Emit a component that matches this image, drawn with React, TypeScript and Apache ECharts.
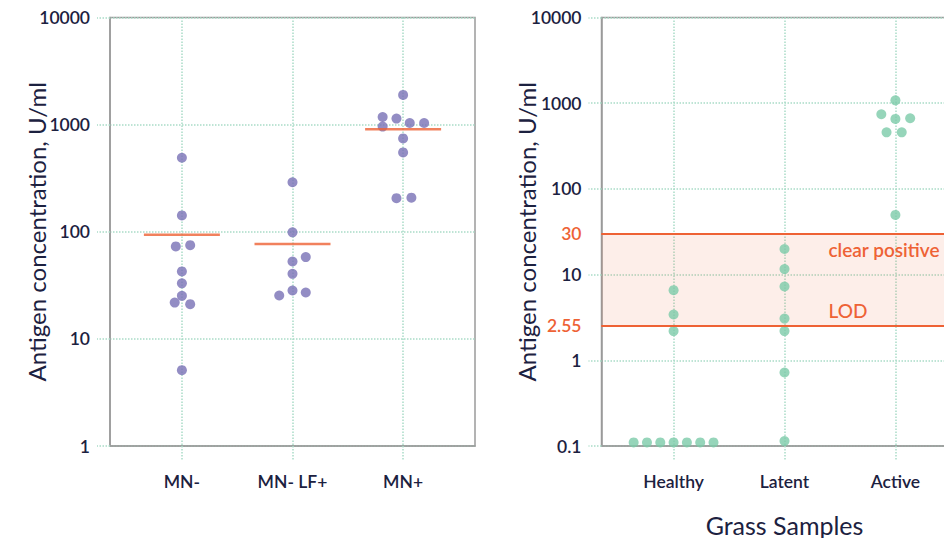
import React, { useEffect, useRef } from "react";
import * as echarts from "echarts";

// ---------- data ----------
const leftCategories = ["MN-", "MN- LF+", "MN+"];
const mnNeg = [491, 142, 73, 75, 42.6, 33, 25.2, 21.8, 21.1, 5.1];
const mnNegJitter = [0, 0, -0.055, 0.075, 0, 0, 0, -0.065, 0.075, 0];
const mnNegLf = [290, 98.7, 58, 52.8, 40.5, 28.3, 27.1, 25.4];
const mnNegLfJitter = [0, 0, 0.12, 0, 0, 0, 0.12, -0.12];
const mnPos = [1893, 1178, 1138, 1035, 1035, 958, 744, 550, 206, 208];
const mnPosJitter = [0, -0.185, -0.06, 0.06, 0.19, -0.185, 0, 0, -0.06, 0.075];
const leftMeans = [94, 77, 904];

const rightCategories = ["Healthy", "Latent", "Active"];
const healthy = [0.11, 0.11, 0.11, 0.11, 0.11, 0.11, 0.11, 2.19, 3.42, 6.58];
const healthyJitter = [-0.36, -0.24, -0.12, 0, 0.12, 0.24, 0.36, 0, 0, 0];
const latent = [19.9, 11.6, 7.26, 3.07, 2.19, 0.72, 0.114];
const latentJitter = [0, 0, 0, 0, 0, 0, 0];
const active = [1079, 743, 656, 668, 457, 457, 49.7];
const activeJitter = [0, -0.127, 0, 0.133, -0.08, 0.057, 0];

const clearPositive = 30;
const lod = 2.55;
const leftYRange = [1, 10000];
const rightYRange = [0.1, 10000];
const categoryPositions = [1, 2, 3];

// ---------- styles ----------
const FONT = "Lato, 'Noto Sans', sans-serif";
const DARK = "#1c2140";
const MINT = "#a9dcc7";
const GREY = "#9a9a9a";
const ORANGE = "#ee6235";
const PURPLE = "#7870b5";
const GREEN = "#7ccaa9";

function toPoints(values: number[], jitter: number[], group: number) {
  return values.map((v, i) => [group + jitter[i], v]);
}

function xAxisFor(gridIndex: number, cats: string[], name?: string) {
  return {
    type: "value",
    gridIndex,
    min: 0.35,
    max: 3.65,
    name: name || "",
    nameLocation: "middle",
    nameGap: 66,
    nameMoveOverlap: false,
    nameTextStyle: { color: DARK, fontSize: 25, fontFamily: FONT },
    axisLine: { show: true, onZero: false, lineStyle: { color: GREY, width: 1.5 } },
    axisTick: {
      show: true,
      customValues: categoryPositions,
      length: 15,
      lineStyle: { color: MINT, type: "dotted", width: 1.5 },
    },
    axisLabel: {
      customValues: categoryPositions,
      formatter: (v: number) => cats[Math.round(v) - 1] ?? "",
      color: DARK,
      fontSize: 17.5,
      fontWeight: 600,
      fontFamily: FONT,
      margin: 26,
    },
    splitLine: { show: true, lineStyle: { color: MINT, type: "dotted", width: 1.5 } },
  };
}

function yAxisFor(gridIndex: number, range: number[], gap: number) {
  return {
    type: "log",
    logBase: 10,
    gridIndex,
    min: range[0],
    max: range[1],
    name: "Antigen concentration, U/ml",
    nameLocation: "middle",
    nameGap: gap,
    nameMoveOverlap: false,
    nameTextStyle: { color: DARK, fontSize: 24, fontFamily: FONT },
    axisLine: { show: true, lineStyle: { color: GREY, width: 1.5 } },
    axisTick: { show: true, length: 13, lineStyle: { color: MINT, type: "dotted", width: 1.5 } },
    axisLabel: {
      color: DARK,
      fontSize: 17.5,
      fontWeight: 600,
      fontFamily: FONT,
      margin: 20,
      formatter: (v: number) => String(v),
    },
    splitLine: { show: true, lineStyle: { color: MINT, type: "dotted", width: 1.5 } },
  };
}

const thresholdLabel = {
  color: ORANGE,
  fontSize: 17.5,
  fontWeight: 600,
  fontFamily: FONT,
};

export default function App() {
  const ref = useRef<HTMLDivElement>(null);
  useEffect(() => {
    if (!ref.current) return;
    const chart = echarts.init(ref.current, null, { renderer: "svg" });
    chart.setOption({
      animation: false,
      backgroundColor: "#ffffff",
      grid: [
        { left: 110, top: 17.5, width: 365, height: 428.5, show: true, borderColor: GREY, borderWidth: 1.5, containLabel: false, outerBoundsMode: "none" },
        { left: 601.5, top: 17.5, width: 366, height: 428.5, show: true, borderColor: GREY, borderWidth: 1.5, containLabel: false, outerBoundsMode: "none" },
      ],
      xAxis: [xAxisFor(0, leftCategories), xAxisFor(1, rightCategories, "Grass Samples")],
      yAxis: [yAxisFor(0, leftYRange, 62), yAxisFor(1, rightYRange, 63)],
      series: [
        {
          type: "scatter",
          xAxisIndex: 0,
          yAxisIndex: 0,
          symbolSize: 10,
          itemStyle: { color: PURPLE },
          data: [
            ...toPoints(mnNeg, mnNegJitter, 1),
            ...toPoints(mnNegLf, mnNegLfJitter, 2),
            ...toPoints(mnPos, mnPosJitter, 3),
          ],
          z: 3,
        },
        {
          type: "scatter",
          xAxisIndex: 0,
          yAxisIndex: 0,
          symbol: "rect",
          symbolSize: [76, 2.5],
          itemStyle: { color: ORANGE },
          data: leftMeans.map((v, i) => [categoryPositions[i], v]),
          z: 4,
        },
        {
          type: "scatter",
          xAxisIndex: 1,
          yAxisIndex: 1,
          symbolSize: 10,
          itemStyle: { color: GREEN },
          data: [
            ...toPoints(healthy, healthyJitter, 1),
            ...toPoints(latent, latentJitter, 2),
            ...toPoints(active, activeJitter, 3),
          ],
          markArea: {
            silent: true,
            itemStyle: { color: "rgba(238,98,53,0.11)" },
            data: [[{ yAxis: lod }, { yAxis: clearPositive }]],
          },
          markLine: {
            silent: true,
            symbol: "none",
            lineStyle: { color: ORANGE, width: 2, type: "solid" },
            data: [
              { yAxis: clearPositive, label: { ...thresholdLabel, position: "start", formatter: "30", distance: 20 } },
              { yAxis: clearPositive, label: { ...thresholdLabel, fontSize: 19, position: "insideStartBottom", formatter: "clear positive", distance: [227, 6] } },
              { yAxis: lod, label: { ...thresholdLabel, position: "start", formatter: "2.55", distance: 20 } },
              { yAxis: lod, label: { ...thresholdLabel, fontSize: 19, fontWeight: 500, position: "insideStartTop", formatter: "LOD", distance: [227, 5] } },
            ],
          },
          z: 3,
        },
      ],
    });
    return () => chart.dispose();
  }, []);
  return (
    <div
      ref={ref}
      style={{ position: "fixed", left: 0, top: 0, width: 970, height: 538, background: "#fff" }}
    />
  );
}
